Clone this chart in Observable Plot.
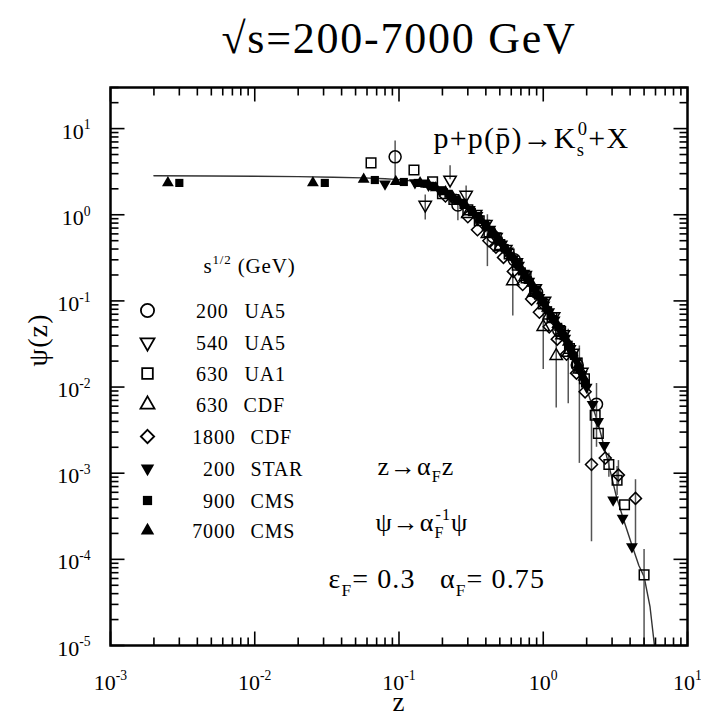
<!DOCTYPE html>
<html>
<head>
<meta charset="utf-8">
<script src="https://cdn.jsdelivr.net/npm/d3@7"></script>
<script src="https://cdn.jsdelivr.net/npm/@observablehq/plot@0.6"></script>
<style>
  body { margin: 0; background: #fff; }
  #chart svg text { font-family: "Liberation Serif", serif !important; }
</style>
</head>
<body>
<div id="chart"></div>
<script>
// z-scaling function psi(z) for K0s production, sqrt(s) = 200-7000 GeV
// rows: [z, psi] or [z, psi, psiLow, psiHigh]

const ua5_200 = [[0.094,4.7,2.3,7.2],[0.256,1.3,0.85,1.6],[0.45,0.56],[0.63,0.3],[0.9,0.125],[1.28,0.046],[1.72,0.018],[2.34,6.3e-3,2.0e-3,0.011]];

const ua5_540 = [[0.152,1.3,0.87,1.7],[0.226,2.55,2.55,3.7],[0.292,1.7,1.4,2.15],[0.34,1.02],[0.4,0.78],[0.47,0.55],[0.55,0.4],[0.65,0.28],[0.75,0.2],[0.88,0.14],[1.02,0.1],[1.18,0.066],[1.38,0.041],[1.6,0.025],[1.85,0.015]];

const ua1_630 = [[0.064,4.0],[0.127,3.3],[0.171,2.42],[0.2,1.75],[0.24,1.5],[0.3,1.14],[0.36,0.85],[0.42,0.63],[0.5,0.45],[0.58,0.35],[0.66,0.26],[0.76,0.185],[0.88,0.13],[1.0,0.092],[1.15,0.064],[1.32,0.044],[1.52,0.028],[1.72,0.019],[1.93,0.0125],[2.29,4.7e-3],[2.41,2.9e-3],[2.85,1.26e-3,9e-4,1.7e-3],[3.25,8.3e-4,5.5e-4,1.2e-3],[3.66,4.3e-4],[5.0,6.6e-5,5e-6,1.3e-4]];

const cdf_630 = [[0.3,1.02],[0.41,0.6,0.25,1.0],[0.5,0.42],[0.615,0.17,0.067,0.23],[0.75,0.19],[0.86,0.125],[1.0,0.05,0.016,0.08],[1.1,0.068],[1.23,0.023,0.0057,0.036],[1.35,0.04],[1.49,0.025,0.0064,0.047],[1.78,0.016,1.3e-3,0.03]];

const cdf_1800 = [[0.21,1.65],[0.3,0.95],[0.35,0.67],[0.42,0.5],[0.47,0.42],[0.53,0.32],[0.62,0.22],[0.72,0.155],[0.83,0.105],[0.94,0.074],[1.1,0.05],[1.25,0.036],[1.45,0.024],[1.7,0.0145],[1.95,0.0088],[2.16,1.26e-3,1.6e-4,5.6e-3],[2.69,1.5e-3],[3.32,9.5e-4,7.3e-4,1.4e-3],[4.36,5.1e-4,1.4e-4,8.4e-4]];

const star_200 = [[0.08,2.28],[0.129,2.36],[0.16,2.2],[0.19,1.95],[0.23,1.6],[0.27,1.4],[0.31,1.15],[0.35,0.98],[0.39,0.8],[0.43,0.68],[0.47,0.57],[0.52,0.46],[0.57,0.38],[0.62,0.31],[0.68,0.26],[0.74,0.21],[0.8,0.17],[0.87,0.135],[0.94,0.11],[1.02,0.09],[1.1,0.075],[1.2,0.06],[1.3,0.048],[1.42,0.037],[1.55,0.028],[1.7,0.02],[1.85,0.014],[2.0,0.01],[2.2,0.0063],[2.4,0.004],[2.65,2.1e-3],[3.05,4.9e-4],[3.55,3e-4],[4.12,1.4e-4]];

const cms_900 = [[0.003,2.34],[0.0306,2.34],[0.068,2.53],[0.108,2.4],[0.135,2.34],[0.15,2.3],[0.17,2.15],[0.2,1.9],[0.22,1.75],[0.25,1.5],[0.28,1.3],[0.32,1.08],[0.36,0.88],[0.4,0.74],[0.44,0.62],[0.49,0.5],[0.54,0.41],[0.59,0.33],[0.65,0.27],[0.71,0.22],[0.78,0.175],[0.85,0.14],[0.92,0.115],[1.0,0.097],[1.08,0.078],[1.17,0.062],[1.27,0.05],[1.38,0.039],[1.5,0.031],[1.63,0.023],[1.78,0.016],[1.95,0.011]];

const cms_7000 = [[0.0025,2.34],[0.0253,2.34],[0.0569,2.58],[0.095,2.42],[0.14,2.35],[0.16,2.25],[0.18,2.05],[0.21,1.85],[0.235,1.62],[0.26,1.45],[0.29,1.28],[0.33,1.05],[0.37,0.86],[0.41,0.72],[0.46,0.6],[0.51,0.48],[0.56,0.39],[0.62,0.32],[0.68,0.26],[0.75,0.2],[0.83,0.16],[0.9,0.125],[0.98,0.1],[1.06,0.082],[1.15,0.066],[1.25,0.053],[1.36,0.042],[1.48,0.033],[1.6,0.025],[1.75,0.018],[1.9,0.013]];

// fitted scaling curve
const curve = [[0.002,2.84],[0.005,2.82],[0.01,2.8],[0.02,2.77],[0.035,2.73],[0.056,2.68],[0.08,2.62],[0.1,2.56],[0.12,2.48],[0.14,2.4],[0.17,2.2],[0.2,1.95],[0.25,1.55],[0.3,1.2],[0.35,0.95],[0.4,0.75],[0.5,0.47],[0.6,0.32],[0.7,0.23],[0.85,0.145],[1.0,0.095],[1.25,0.052],[1.5,0.03],[1.75,0.017],[2.0,0.0095],[2.4,0.0038],[2.8,0.0014],[3.2,5.5e-4],[3.6,2.9e-4],[4.1,1.5e-4],[4.6,8.5e-5],[5.0,6.3e-5],[5.5,2.8e-5],[5.9,1e-5],[6.3,3e-6]];

const legendEnergy = ["200","540","630","630","1800","200","900","7000"];
const legendExperiment = ["UA5","UA5","UA1","CDF","CDF","STAR","CMS","CMS"];

const xMajor = [1e-3, 1e-2, 1e-1, 1, 10];
const xTickLabels = ["10^{-3}","10^{-2}","10^{-1}","10^{0}","10^{1}"];
const yMajor = [1e-5, 1e-4, 1e-3, 1e-2, 1e-1, 1, 10];
const yTickLabels = ["10^{-5}","10^{-4}","10^{-3}","10^{-2}","10^{-1}","10^{0}","10^{1}"];

// ---- layout ----
const W = 701, H = 715;
const mL = 110, mR = 14, mT = 87, mB = 70;
const innerW = W - mL - mR, innerH = H - mT - mB;
const xDomain = [1e-3, 10], yDomain = [1e-5, 30];
const serif = "'Liberation Serif', serif";

const minorTicks = (majors, max) => {
  const out = [];
  for (const d of majors) for (let k = 2; k <= 9; k++) if (d * k < max) out.push(d * k);
  return out;
};
const xMinor = minorTicks(xMajor.slice(0, -1), 10);
const yMinor = minorTicks(yMajor, 30.5);

const triangleDown = {
  draw(context, size) {
    const y = -Math.sqrt(size / (Math.sqrt(3) * 3));
    context.moveTo(0, -y * 2);
    context.lineTo(-Math.sqrt(3) * y, y);
    context.lineTo(Math.sqrt(3) * y, y);
    context.closePath();
  }
};

// a tick drawn as a symbol: a short stroke from the anchor point in direction (ux, uy)
const tickSymbol = (ux, uy, len) => ({
  draw(context) {
    context.moveTo(0, 0);
    context.lineTo(ux * len, uy * len);
  }
});

const series = [
  {data: ua5_200,  symbol: "circle",     r: 6,   filled: false},
  {data: ua5_540,  symbol: triangleDown, r: 4.6, filled: false},
  {data: ua1_630,  symbol: "square",     r: 5.4, filled: false},
  {data: cdf_630,  symbol: "triangle",   r: 4.6, filled: false},
  {data: cdf_1800, symbol: "diamond2",   r: 5.4, filled: false},
  {data: star_200, symbol: triangleDown, r: 4.4, filled: true},
  {data: cms_900,  symbol: "square",     r: 4.6, filled: true},
  {data: cms_7000, symbol: "triangle",   r: 4.4, filled: true}
];

const legendRowY = [310, 342, 373, 404, 436, 468, 500, 530];
const legendNumEnd = [228, 228, 228, 228, 235, 235, 235, 235];
const legendNameStart = [244, 244, 244, 243, 250, 250, 250, 250];

const marks = [];

// fitted curve
marks.push(Plot.line(curve, {x: d => d[0], y: d => d[1], stroke: "#333", strokeWidth: 1.4, clip: true}));

// error bars
for (const s of series) {
  marks.push(Plot.ruleX(s.data.filter(d => d.length > 2), {
    x: d => d[0], y1: d => d[2], y2: d => d[3], stroke: "#555", strokeWidth: 1.5, clip: true
  }));
}

// data points
for (const s of series) {
  marks.push(Plot.dot(s.data, {
    x: d => d[0], y: d => d[1], symbol: s.symbol, r: s.r,
    fill: s.filled ? "black" : "none",
    stroke: s.filled ? "none" : "black",
    strokeWidth: 1.5
  }));
}

marks.push(Plot.frame({stroke: "black", strokeWidth: 2.5}));

const txt = {fontFamily: serif, fill: "black", lineAnchor: "middle"};

// tick labels
marks.push(
  Plot.text(xMajor, {x: d => d, text: (d, i) => xTickLabels[i], frameAnchor: "bottom", dy: 37, fontSize: 22, ...txt}),
  Plot.text(yMajor, {y: d => d, text: (d, i) => yTickLabels[i], frameAnchor: "left", dx: -20, dy: 3, textAnchor: "end", fontSize: 22, ...txt})
);

// axis titles and chart title
marks.push(
  Plot.text(["z"], {frameAnchor: "bottom", dy: 57, fontSize: 27, ...txt}),
  Plot.text(["ψ(z)"], {frameAnchor: "left", dx: -72, rotate: -90, fontSize: 28, ...txt}),
  Plot.text(["√s=200-7000 GeV"], {frameAnchor: "top", dy: -49, fontSize: 44, ...txt})
);

// annotations inside the frame (x = start, baseline in px)
const note = (label, x, baseline, size) => Plot.text([label], {
  frameAnchor: "top-left", dx: x - mL, dy: baseline - 0.32 * size - mT,
  textAnchor: "start", fontSize: size, ...txt
});
marks.push(
  note("p+p(p\u0304)→K_{s}!{0}+X", 433, 147, 30),
  note("s^{1/2} (GeV)", 203, 272, 21),
  note("z→α_{F}z", 377, 474, 26),
  note("ψ→α_{F}!{-1}ψ", 375, 530, 26),
  note("ε_{F}= 0.3   α_{F}= 0.75", 328, 587, 28)
);

// legend
series.forEach((s, i) => {
  const y = legendRowY[i];
  marks.push(
    Plot.dot([0], {frameAnchor: "top-left", dx: 147 - mL, dy: y - mT, symbol: s.symbol, r: s.r + 0.6,
      fill: s.filled ? "black" : "none", stroke: s.filled ? "none" : "black", strokeWidth: 1.8}),
    Plot.text([legendEnergy[i]], {frameAnchor: "top-left", dx: legendNumEnd[i] - mL, dy: y + 1 - mT,
      textAnchor: "end", fontSize: 20, ...txt}),
    Plot.text([legendExperiment[i]], {frameAnchor: "top-left", dx: legendNameStart[i] - mL, dy: y + 1 - mT,
      textAnchor: "start", fontSize: 20, ...txt})
  );
});

// inward ticks on all four sides, drawn last as stroked symbols anchored on the frame
const tickDot = {fill: "none", stroke: "black", strokeWidth: 1.6};
for (const [vals, len] of [[xMinor, 8], [xMajor, 14]]) {
  marks.push(
    Plot.dot(vals, {x: d => d, y: yDomain[0], symbol: tickSymbol(0, -1, len), ...tickDot}),
    Plot.dot(vals, {x: d => d, y: yDomain[1], symbol: tickSymbol(0, 1, len), ...tickDot})
  );
}
for (const [vals, len] of [[yMinor, 8], [yMajor, 14]]) {
  marks.push(
    Plot.dot(vals, {y: d => d, x: xDomain[0], symbol: tickSymbol(1, 0, len), ...tickDot}),
    Plot.dot(vals, {y: d => d, x: xDomain[1], symbol: tickSymbol(-1, 0, len), ...tickDot})
  );
}

const plot = Plot.plot({
  width: W, height: H,
  marginLeft: mL, marginRight: mR, marginTop: mT, marginBottom: mB,
  style: {fontFamily: serif, background: "white", color: "black"},
  x: {type: "log", domain: xDomain, axis: null},
  y: {type: "log", domain: yDomain, axis: null},
  marks
});
document.getElementById("chart").append(plot);
const svg = plot.tagName.toLowerCase() === "svg" ? plot : plot.querySelector("svg");

// rich text: ^{sup}, _{sub}, !{sup stacked over the preceding sub}
function richText(el, str) {
  const base = parseFloat(getComputedStyle(el).fontSize);
  el.textContent = "";
  el.style.whiteSpace = "pre";
  let shift = 0, prev = null;
  const add = (t, kind) => {
    if (!t) return;
    const target = (kind === "^" || kind === "!") ? -0.42 * base : kind === "_" ? 0.3 * base : 0;
    const sp = document.createElementNS("http://www.w3.org/2000/svg", "tspan");
    sp.textContent = t;
    if (target !== shift) sp.setAttribute("dy", target - shift);
    shift = target;
    if (kind) sp.setAttribute("font-size", 0.62 * base);
    if (kind === "!" && prev) sp.setAttribute("dx", -prev.getComputedTextLength());
    el.append(sp);
    prev = sp;
  };
  const re = /([\^_!])\{([^}]*)\}/g;
  let last = 0, m;
  while ((m = re.exec(str))) {
    add(str.slice(last, m.index), "");
    add(m[2], m[1]);
    last = re.lastIndex;
  }
  add(str.slice(last), "");
}
svg.querySelectorAll("text").forEach(el => {
  const s = el.textContent;
  if (/[\^_!]\{/.test(s)) richText(el, s);
});
// slightly wider tracking for the title, annotation and legend texts
svg.querySelectorAll("text").forEach(el => {
  if (!/^10/.test(el.textContent)) el.style.letterSpacing = "0.04em";
});
</script>
</body>
</html>
